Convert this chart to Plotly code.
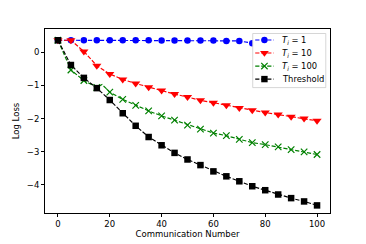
import plotly.graph_objects as go

# ---------------- data ----------------
comm = [0, 5, 10, 15, 20, 25, 30, 35, 40, 45, 50, 55, 60, 65, 70, 75, 80, 85, 90, 95, 100]
loss_t1 = [0.37, 0.37, 0.37, 0.37, 0.37, 0.37, 0.37, 0.37, 0.36, 0.36, 0.36, 0.36, 0.36,
           0.35, 0.35, 0.28, 0.22, 0.16, 0.10, 0.05, 0.0]
loss_t10 = [0.37, 0.37, 0.03, -0.40, -0.65, -0.82, -0.94, -1.05, -1.15, -1.26, -1.35, -1.45,
            -1.52, -1.60, -1.68, -1.75, -1.82, -1.88, -1.95, -2.00, -2.07]
loss_t100 = [0.37, -0.53, -0.85, -1.06, -1.20, -1.42, -1.60, -1.77, -1.92, -2.05, -2.20, -2.32,
             -2.44, -2.52, -2.63, -2.73, -2.79, -2.86, -2.94, -3.01, -3.09]
# extra (unmarked) sample of the T_i = 100 curve where it bumps up
t100_extra_x = [17]
t100_extra_y = [-0.97]
loss_thr = [0.37, -0.38, -0.77, -1.08, -1.44, -1.84, -2.22, -2.56, -2.81, -3.04, -3.24, -3.41,
            -3.60, -3.75, -3.90, -4.05, -4.17, -4.30, -4.41, -4.51, -4.63]

labels = ["<i>T</i><sub><i>i</i></sub> = 1", "<i>T</i><sub><i>i</i></sub> = 10",
          "<i>T</i><sub><i>i</i></sub> = 100", "Threshold"]
x_ticks = [0, 20, 40, 60, 80, 100]
y_ticks = [-4, -3, -2, -1, 0]

# ---------------- styles / layout constants ----------------
FONT = "DejaVu Sans"
DASH = "4.2px,1.8px"
LW = 1.15
W, H = 366, 244
ML, MR, MT, MB = 45, 36.3, 29, 31.3
PW, PH = W - ML - MR, H - MT - MB

styles = [
    dict(color="#0000ff", symbol="circle", size=6.5),
    dict(color="#ff0000", symbol="triangle-down", size=8),
    dict(color="#008000", symbol="x-thin-open", size=6.5),
    dict(color="#000000", symbol="square", size=6.5),
]

# merge green curve with its extra samples
g = sorted(list(zip(comm, loss_t100)) + list(zip(t100_extra_x, t100_extra_y)))
lines_x = [comm, comm, [p[0] for p in g], comm]
lines_y = [loss_t1, loss_t10, [p[1] for p in g], loss_thr]
mark_y = [loss_t1, loss_t10, loss_t100, loss_thr]

fig = go.Figure()
for lx, ly, my, st in zip(lines_x, lines_y, mark_y, styles):
    fig.add_trace(go.Scatter(x=lx, y=ly, mode="lines",
                             line=dict(color=st["color"], width=LW, dash=DASH),
                             hoverinfo="skip", showlegend=False))
    mk = dict(color=st["color"], symbol=st["symbol"], size=st["size"],
              line=dict(color=st["color"], width=1.2 if "x" in st["symbol"] else 0))
    fig.add_trace(go.Scatter(x=comm, y=my, mode="markers", marker=mk,
                             hoverinfo="skip", showlegend=False))


# ---------------- legend drawn with shapes (pixel -> paper helpers) ----------------
def px(xp):
    return (xp - ML) / PW


def py(yp):
    return (H - MB - yp) / PH


shapes = []
L_LEFT, L_RIGHT, L_TOP, L_BOT = 252.5, 325.5, 33.5, 87.5
entry_y = [40.0, 53.0, 66.0, 79.0]
shapes.append(dict(type="rect", xref="paper", yref="paper", layer="above",
                   x0=px(L_LEFT), x1=px(L_RIGHT), y0=py(L_BOT), y1=py(L_TOP),
                   fillcolor="white", opacity=1,
                   line=dict(color="#cccccc", width=0.8)))
SX0, SXM, SX1 = 255.0, 264.2, 273.4
for ey, st in zip(entry_y, styles):
    c = st["color"]
    shapes.append(dict(type="line", xref="paper", yref="paper", layer="above",
                       x0=px(SX0), x1=px(SX1), y0=py(ey), y1=py(ey),
                       line=dict(color=c, width=LW, dash=DASH)))
    if st["symbol"] == "circle":
        r = 3.2
        shapes.append(dict(type="circle", xref="paper", yref="paper", layer="above",
                           x0=px(SXM - r), x1=px(SXM + r), y0=py(ey + r), y1=py(ey - r),
                           fillcolor=c, line=dict(width=0)))
    elif st["symbol"] == "square":
        r = 3.2
        shapes.append(dict(type="rect", xref="paper", yref="paper", layer="above",
                           x0=px(SXM - r), x1=px(SXM + r), y0=py(ey + r), y1=py(ey - r),
                           fillcolor=c, line=dict(width=0)))
    elif st["symbol"] == "triangle-down":
        rt, rh = 4.4, 2.0
        path = "M {:.5f},{:.5f} L {:.5f},{:.5f} L {:.5f},{:.5f} Z".format(
            px(SXM - rt), py(ey - rh), px(SXM + rt), py(ey - rh), px(SXM), py(ey + 3.8))
        shapes.append(dict(type="path", xref="paper", yref="paper", layer="above",
                           path=path, fillcolor=c, line=dict(width=0)))
    else:
        r = 3.2
        path = "M {:.5f},{:.5f} L {:.5f},{:.5f} M {:.5f},{:.5f} L {:.5f},{:.5f}".format(
            px(SXM - r), py(ey - r), px(SXM + r), py(ey + r),
            px(SXM - r), py(ey + r), px(SXM + r), py(ey - r))
        shapes.append(dict(type="path", xref="paper", yref="paper", layer="above",
                           path=path, line=dict(color=c, width=1.2)))

for ey, lab in zip(entry_y, labels):
    fig.add_annotation(x=px(280), y=py(ey), xref="paper", yref="paper", text=lab,
                       showarrow=False, xanchor="left", yanchor="middle",
                       font=dict(family=FONT, size=8.4, color="black"))

axis_common = dict(showline=True, mirror=True, linecolor="black", linewidth=0.8,
                   ticks="outside", ticklen=3, tickwidth=0.8, tickcolor="black",
                   showgrid=False, zeroline=False, automargin=False,
                   tickfont=dict(family=FONT, size=8.5, color="black"))

fig.update_layout(
    width=W, height=H,
    margin=dict(l=ML, r=MR, t=MT, b=MB, pad=0, autoexpand=False),
    paper_bgcolor="white", plot_bgcolor="white",
    showlegend=False,
    font=dict(family=FONT, size=8.5, color="black"),
    shapes=shapes,
    xaxis=dict(range=[-5, 105], tickvals=x_ticks,
               title=dict(text="Communication Number", standoff=2,
                          font=dict(family=FONT, size=8.5, color="black")),
               **axis_common),
    yaxis=dict(range=[-4.86, 0.71], tickvals=y_ticks,
               title=dict(text="Log Loss", standoff=5,
                          font=dict(family=FONT, size=8.5, color="black")),
               **axis_common),
)

fig.write_html("out.html", config={"displayModeBar": False},
               post_script="document.body.style.margin='0px';"
                           "document.body.style.padding='0px';")
